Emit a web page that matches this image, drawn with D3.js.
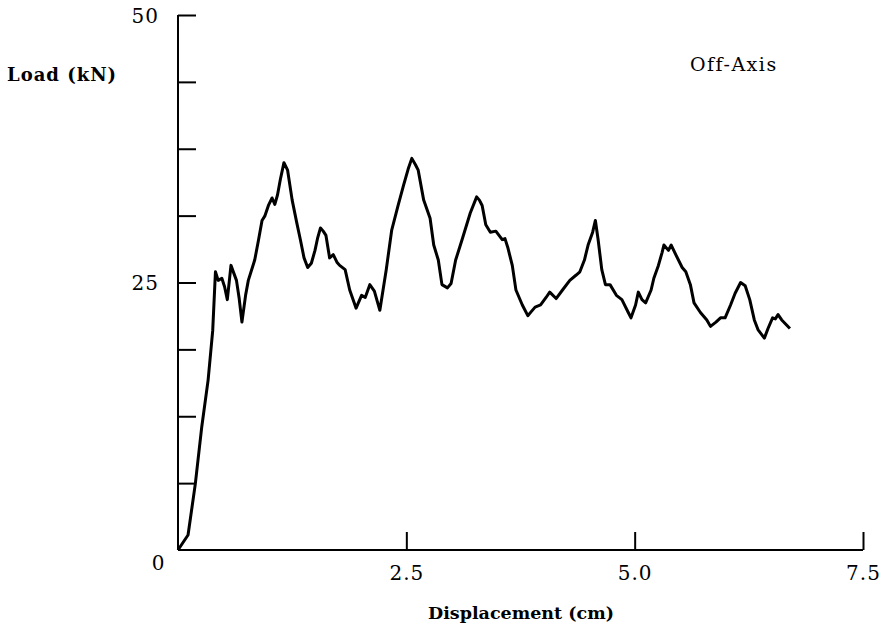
<!DOCTYPE html>
<html lang="en">
<head>
  <meta charset="utf-8">
  <title>Off-Axis Load vs Displacement</title>
  <script src="https://cdnjs.cloudflare.com/ajax/libs/d3/7.8.5/d3.min.js"></script>
  <style>
    html, body { margin: 0; padding: 0; background: #fff; }
    text { font-family: "DejaVu Serif", serif; fill: #000; }
    .axis path, .axis line { stroke: #000; stroke-width: 2; }
    .bold { font-weight: bold; }
  </style>
</head>
<body>
<svg id="chart" width="894" height="633"></svg>
<script>
// displacement (cm)
var disp = [0, 0.11, 0.19, 0.26, 0.33, 0.38, 0.41, 0.44, 0.48, 0.51, 0.54, 0.58, 0.61, 0.64, 0.67, 0.70,
  0.74, 0.77, 0.84, 0.88, 0.92, 0.95, 0.99, 1.03, 1.06, 1.09, 1.12, 1.16, 1.20, 1.25, 1.30, 1.34, 1.38,
  1.42, 1.46, 1.50, 1.53, 1.56, 1.59, 1.62, 1.66, 1.70, 1.74, 1.77, 1.83, 1.88, 1.95, 2.01, 2.05, 2.10,
  2.15, 2.21, 2.28, 2.34, 2.41, 2.47, 2.52, 2.56, 2.60, 2.63, 2.69, 2.76, 2.80, 2.85, 2.89, 2.95, 2.99,
  3.04, 3.11, 3.20, 3.27, 3.30, 3.33, 3.37, 3.42, 3.48, 3.55, 3.58, 3.61, 3.66, 3.70, 3.77, 3.83, 3.87,
  3.91, 3.97, 4.03, 4.07, 4.14, 4.21, 4.29, 4.36, 4.40, 4.45, 4.49, 4.54, 4.57, 4.60, 4.64, 4.68, 4.73,
  4.80, 4.86, 4.93, 4.96, 5.01, 5.04, 5.08, 5.12, 5.18, 5.21, 5.26, 5.30, 5.32, 5.37, 5.40, 5.45, 5.52,
  5.56, 5.61, 5.65, 5.72, 5.79, 5.83, 5.89, 5.94, 5.99, 6.05, 6.10, 6.16, 6.21, 6.26, 6.31, 6.35, 6.42,
  6.46, 6.51, 6.54, 6.57, 6.61, 6.70];
// load (kN)
var load = [0, 1.4, 6.2, 11.5, 15.9, 20.5, 26.0, 25.2, 25.4, 24.6, 23.4, 26.6, 25.9, 25.2, 23.5, 21.3,
  23.8, 25.2, 27.1, 28.9, 30.8, 31.2, 32.2, 32.9, 32.3, 33.2, 34.6, 36.2, 35.5, 32.7, 30.6, 29.0, 27.3,
  26.4, 26.8, 28.0, 29.2, 30.1, 29.8, 29.4, 27.3, 27.6, 26.9, 26.6, 26.2, 24.3, 22.6, 23.8, 23.6, 24.8,
  24.2, 22.4, 26.2, 29.9, 32.2, 34.1, 35.6, 36.6, 36.0, 35.5, 32.7, 31.0, 28.5, 27.1, 24.8, 24.5, 24.9,
  27.1, 29.0, 31.5, 33.0, 32.7, 32.2, 30.4, 29.7, 29.8, 29.0, 29.1, 28.3, 26.6, 24.3, 22.9, 21.9, 22.3,
  22.7, 22.9, 23.6, 24.1, 23.5, 24.3, 25.2, 25.7, 26.0, 27.1, 28.5, 29.7, 30.8, 29.0, 26.2, 24.8, 24.8,
  23.8, 23.4, 22.2, 21.7, 22.9, 24.1, 23.4, 23.1, 24.3, 25.4, 26.6, 27.8, 28.5, 28.0, 28.5, 27.6, 26.4,
  26.0, 24.8, 23.1, 22.2, 21.5, 20.9, 21.3, 21.7, 21.7, 22.9, 24.0, 25.0, 24.7, 23.4, 21.5, 20.6, 19.8,
  20.7, 21.7, 21.6, 22.0, 21.5, 20.7];

var xTicks = [0, 2.5, 5.0, 7.5];
var yTicks = [6.25, 12.5, 18.75, 25, 31.25, 37.5, 43.75, 50];
var yLabels = [25, 50];

var svg = d3.select("#chart");
var margin = {left: 178, top: 15, right: 31, bottom: 83};
var w = 894 - margin.left - margin.right,
    h = 633 - margin.top - margin.bottom;

var g = svg.append("g").attr("transform", "translate(" + margin.left + "," + margin.top + ")");

var x = d3.scaleLinear().domain([0, 7.5]).range([0, w]);
var y = d3.scaleLinear().domain([0, 50]).range([h, 0]);

// y axis, ticks pointing inward
var yAxis = g.append("g").attr("class", "axis")
  .call(d3.axisLeft(y).tickValues(yTicks).tickSize(-18).tickSizeOuter(0)
    .tickFormat(function(d) { return yLabels.indexOf(d) != -1 ? d : ""; }));
yAxis.selectAll("text").attr("x", -19).attr("dy", "0.36em")
  .style("font-size", "20px").style("letter-spacing", "1px");
yAxis.select(".domain").attr("d", "M0," + y(0) + "V" + y(50));

// x axis, ticks pointing up
var xAxis = g.append("g").attr("class", "axis").attr("transform", "translate(0," + h + ")")
  .call(d3.axisBottom(x).tickValues(xTicks.slice(1)).tickSize(-18).tickSizeOuter(0)
    .tickFormat(d3.format(".1f")));
xAxis.selectAll("text").attr("y", 30).attr("dy", 0)
  .style("font-size", "20px").style("letter-spacing", "1px");
xAxis.select(".domain").attr("d", "M0,0H" + x(7.5));
g.selectAll(".axis .domain").attr("fill", "none");

// origin label
g.append("text").attr("x", x(0) - 20).attr("y", y(0) + 20)
  .attr("text-anchor", "middle").style("font-size", "20px").text("0");

var line = d3.line()
  .x(function(d, i) { return x(disp[i]); })
  .y(function(d) { return y(d); });

g.append("path").datum(load)
  .attr("d", line)
  .attr("fill", "none")
  .attr("stroke", "#000")
  .attr("stroke-width", 3)
  .attr("stroke-linejoin", "round");

svg.append("text").attr("class", "bold").attr("x", 7).attr("y", 81)
  .style("font-size", "18px").style("letter-spacing", "1px").text("Load (kN)");
svg.append("text").attr("class", "bold").attr("x", 521).attr("y", 619)
  .attr("text-anchor", "middle").style("font-size", "17.5px").text("Displacement (cm)");
svg.append("text").attr("x", 690).attr("y", 71)
  .style("font-size", "19px").style("letter-spacing", "1.5px").text("Off-Axis");
</script>
</body>
</html>
